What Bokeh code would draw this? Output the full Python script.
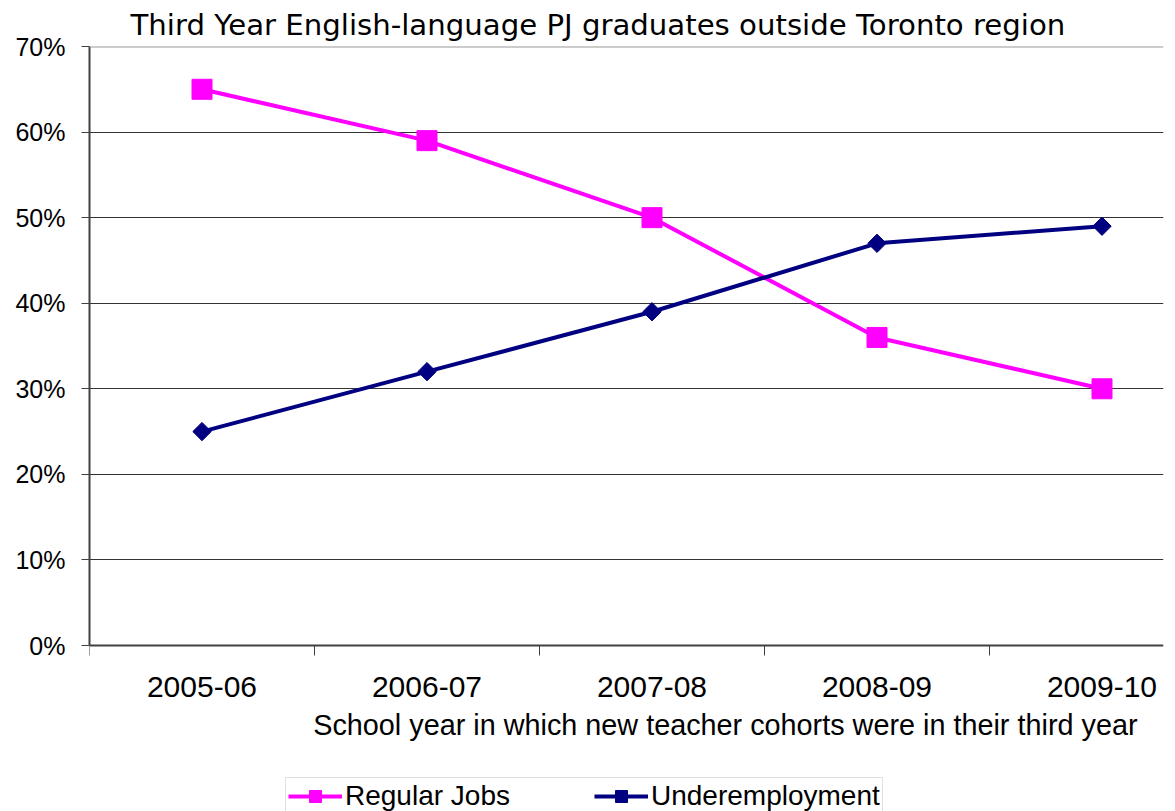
from bokeh.plotting import figure
from bokeh.models import Range1d, FixedTicker, Legend, LegendItem, Span, Label
from bokeh.embed import file_html
from bokeh.resources import INLINE

years = ["2005-06", "2006-07", "2007-08", "2008-09", "2009-10"]
regular_jobs = [65, 59, 50, 36, 30]
underemployment = [25, 32, 39, 47, 49]
y_ticks = [0, 10, 20, 30, 40, 50, 60, 70]
y_max = 70

title_text = "Third Year English-language PJ graduates outside Toronto region"
x_title = "School year in which new teacher cohorts were in their third year"

# layout (pixels)
W, H = 1175, 811
FRAME_LEFT, FRAME_RIGHT, FRAME_TOP, ZERO_Y = 89, 1163, 46, 645
CAT_PX = 225  # pixel width of one category slot

px_per_unit = (ZERO_Y - FRAME_TOP) / y_max
y_start = -(H - ZERO_Y) / px_per_unit
x_end = (FRAME_RIGHT - FRAME_LEFT) / CAT_PX

x = [i + 0.5 for i in range(len(years))]

p = figure(width=W, height=H, output_backend="svg", toolbar_location=None,
           x_range=Range1d(0, x_end), y_range=Range1d(y_start, y_max),
           min_border_left=FRAME_LEFT, min_border_right=W - FRAME_RIGHT,
           min_border_top=FRAME_TOP, min_border_bottom=0,
           outline_line_color=None)

p.title.text = title_text
p.title.align = "left"
p.title.offset = 41
p.title.text_font = "DejaVu Sans"
p.title.text_font_size = "29.2px"
p.title.text_font_style = "normal"
p.title.text_color = "black"
p.title.standoff = 10

# x axis, drawn at the 0% line
p.xaxis.fixed_location = 0
p.xaxis.ticker = FixedTicker(ticks=x, minor_ticks=list(range(len(years))))
p.xaxis.major_label_overrides = {xi: yr for xi, yr in zip(x, years)}
p.xaxis.major_tick_out = 0
p.xaxis.major_tick_in = 0
p.xaxis.minor_tick_out = 10
p.xaxis.minor_tick_in = 0
p.xaxis.minor_tick_line_color = "#404040"
p.xaxis.axis_line_color = "#404040"
p.xaxis.axis_line_width = 2
p.xaxis.major_label_standoff = 21
p.xaxis.major_label_text_font = "Liberation Sans"
p.xaxis.major_label_text_font_size = "30px"
p.xaxis.major_label_text_color = "black"

# y axis
p.yaxis.bounds = (0, y_max)
p.yaxis.ticker = FixedTicker(ticks=y_ticks)
p.yaxis.major_label_overrides = {v: f"{v}%" for v in y_ticks}
p.yaxis.major_tick_out = 8
p.yaxis.major_tick_in = 0
p.yaxis.minor_tick_line_color = None
p.yaxis.axis_line_color = "#404040"
p.yaxis.axis_line_width = 2
p.yaxis.major_tick_line_color = "#404040"
p.yaxis.major_label_standoff = 16
p.yaxis.major_label_text_font = "Liberation Sans"
p.yaxis.major_label_text_font_size = "25px"
p.yaxis.major_label_text_color = "black"

p.xgrid.visible = False
p.ygrid.ticker = FixedTicker(ticks=[t for t in y_ticks if 0 < t < y_max])
p.ygrid.grid_line_color = "#333333"
p.ygrid.grid_line_width = 1
p.add_layout(Span(location=y_max, dimension="width", line_color="#999999", line_width=2))

# x-axis title
p.add_layout(Label(x=(1137 - FRAME_LEFT) / CAT_PX, y=-(724 - ZERO_Y) / px_per_unit,
                   text=x_title, text_align="right", text_baseline="alphabetic",
                   text_font="Liberation Sans", text_font_size="28.8px",
                   text_color="black"))

r1 = p.line(x, regular_jobs, line_color="#FF00FF", line_width=4)
s1 = p.scatter(x, regular_jobs, marker="square", size=20,
               fill_color="#FF00FF", line_color="#FF00FF")
r2 = p.line(x, underemployment, line_color="#000080", line_width=4)
s2 = p.scatter(x, underemployment, marker="square", angle=0.785398, size=13,
               fill_color="#000080", line_color="#000080")

legend = Legend(items=[LegendItem(label="Regular Jobs", renderers=[r1, s1]),
                       LegendItem(label="Underemployment", renderers=[r2, s2])],
                orientation="horizontal", location=(196, -4), padding=2,
                glyph_width=54, glyph_height=30, label_standoff=3,
                spacing=84, border_line_color="#BFBFBF",
                label_text_font="Liberation Sans", label_text_font_size="28px",
                label_text_color="black", margin=0)
p.add_layout(legend)

open("out.html", "w").write(file_html(p, INLINE))
